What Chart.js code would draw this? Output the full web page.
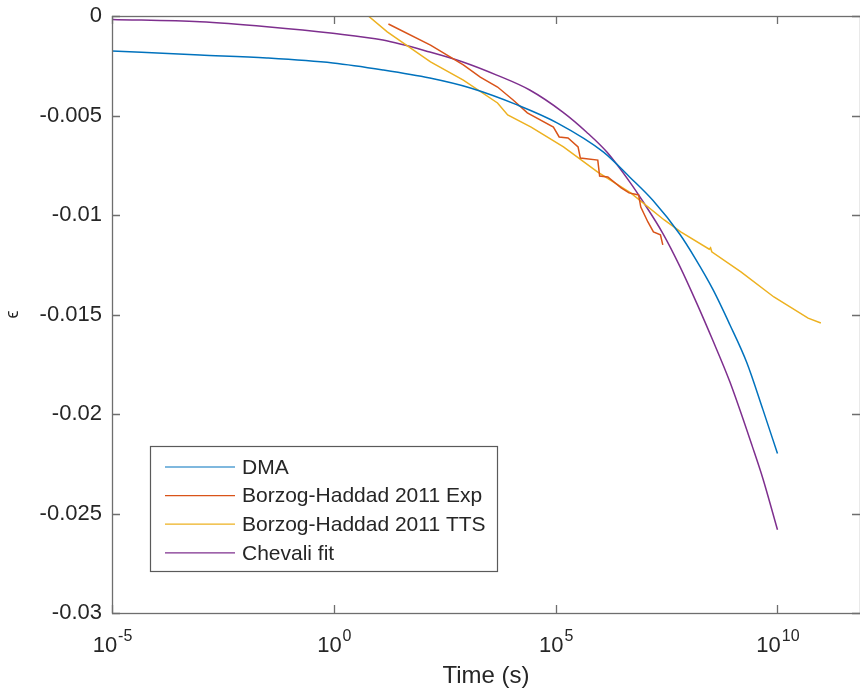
<!DOCTYPE html>
<html>
<head>
<meta charset="utf-8">
<title>Strain vs time</title>
<script src="https://cdn.jsdelivr.net/npm/chart.js@4.4.1/dist/chart.umd.min.js"></script>
<style>
  html, body { margin: 0; padding: 0; background: #fff; overflow: hidden; }
</style>
</head>
<body>
<canvas id="strainChart" width="860" height="694"></canvas>
<script>
// series data (time in s, strain)
const dmaTime = [1e-5, 9.6e-4, 3.1e-2, 0.95, 12.8, 146, 1.2e3, 1.4e4, 1.1e5, 1.2e6, 4.7e6, 1.55e7, 6.3e7, 1.44e8, 3.5e8, 8.4e8, 2.03e9, 4.7e9, 1e10];
const dmaStrain = [-0.00176, -0.00196, -0.00211, -0.00236, -0.00271, -0.00312, -0.00362, -0.00448, -0.00538, -0.00684, -0.00810, -0.00926, -0.01097, -0.01223, -0.01374, -0.01550, -0.01741, -0.01978, -0.02199];

const expTime = [17, 151, 830, 2.0e3, 4.9e3, 1.1e4, 2.3e4, 8.9e4, 1.2e5, 1.9e5, 3.2e5, 3.6e5, 8.9e5, 9.8e5, 1.5e6, 3.0e6, 4.5e6, 7.4e6, 8.3e6, 1.2e7, 1.6e7, 2.3e7, 2.6e7];
const expStrain = [-0.0004, -0.00146, -0.00246, -0.00307, -0.00357, -0.00422, -0.00487, -0.00558, -0.00608, -0.00613, -0.00658, -0.00714, -0.00724, -0.00804, -0.00809, -0.00864, -0.00889, -0.00899, -0.0096, -0.01035, -0.01085, -0.011, -0.0115];

const ttsTime = [6.0, 16, 151, 830, 4.9e3, 8.3e3, 2.8e4, 1.5e5, 8.9e5, 4.9e6, 2.8e7, 6.6e7, 2.9e8, 3.1e8, 3.3e8, 1.5e9, 8.3e9, 4.9e10, 9.5e10];
const ttsStrain = [0, -0.0008, -0.00231, -0.00322, -0.00437, -0.00497, -0.00558, -0.00658, -0.00784, -0.00889, -0.01025, -0.01085, -0.01172, -0.01165, -0.01185, -0.01286, -0.01412, -0.01518, -0.01543];

const chevaliTime = [1e-5, 9.6e-4, 3.1e-2, 0.95, 12.8, 146, 811, 4.7e3, 2.6e4, 1.45e5, 5.0e5, 1.43e6, 4.7e6, 9.2e6, 2.6e7, 6.3e7, 1.52e8, 3.5e8, 8.4e8, 2.77e9, 4.7e9, 1e10];
const chevaliStrain = [-0.00017, -0.00029, -0.00054, -0.00087, -0.00121, -0.00181, -0.00231, -0.00297, -0.00372, -0.00483, -0.00584, -0.00684, -0.00835, -0.00931, -0.01092, -0.01258, -0.01444, -0.01631, -0.01837, -0.02169, -0.02325, -0.02582];

const legendLabels = ['DMA', 'Borzog-Haddad 2011 Exp', 'Borzog-Haddad 2011 TTS', 'Chevali fit'];
const seriesColors = ['#0072BD', '#D95319', '#EDB120', '#7E2F8E'];

// axes
const xTickValues = [1e-5, 1e0, 1e5, 1e10];
const xTickExponents = ['-5', '0', '5', '10'];
const yTickValues = [0, -0.005, -0.01, -0.015, -0.02, -0.025, -0.03];
const yTickLabels = ['0', '-0.005', '-0.01', '-0.015', '-0.02', '-0.025', '-0.03'];
const xMin = 1e-5;
const xMax = Math.pow(10, 11.86);

const textColor = '#262626';
const axisColor = '#6e6e6e';
const fontFamily = '"Liberation Sans", Arial, Helvetica, sans-serif';

function toPoints(xs, ys) {
    return xs.map((x, i) => ({ x: x, y: ys[i] }));
}

// draws the MATLAB style box, inner ticks, 10^n labels and the legend
const matlabAxes = {
    id: 'matlabAxes',
    afterDraw(chart) {
        const ctx = chart.ctx;
        const a = chart.chartArea;
        const xs = chart.scales.x;
        const ys = chart.scales.y;
        ctx.save();

        ctx.strokeStyle = axisColor;
        ctx.lineWidth = 1.3;
        ctx.strokeRect(a.left + 0.5, a.top + 0.5, a.right - a.left, a.bottom - a.top);

        ctx.beginPath();
        xTickValues.forEach(v => {
            const px = Math.round(xs.getPixelForValue(v)) + 0.5;
            ctx.moveTo(px, a.bottom); ctx.lineTo(px, a.bottom - 8);
            ctx.moveTo(px, a.top); ctx.lineTo(px, a.top + 8);
        });
        yTickValues.forEach(v => {
            const py = Math.round(ys.getPixelForValue(v)) + 0.5;
            ctx.moveTo(a.left, py); ctx.lineTo(a.left + 8, py);
            ctx.moveTo(a.right, py); ctx.lineTo(a.right - 8, py);
        });
        ctx.stroke();

        // x tick labels as 10 with a raised exponent
        ctx.fillStyle = textColor;
        ctx.textAlign = 'left';
        ctx.textBaseline = 'alphabetic';
        xTickValues.forEach((v, i) => {
            const px = xs.getPixelForValue(v);
            ctx.font = '22px ' + fontFamily;
            const wb = ctx.measureText('10').width;
            ctx.font = '16px ' + fontFamily;
            const we = ctx.measureText(xTickExponents[i]).width;
            const x0 = px - (wb + we) / 2;
            ctx.font = '22px ' + fontFamily;
            ctx.fillText('10', x0, a.bottom + 39);
            ctx.font = '16px ' + fontFamily;
            ctx.fillText(xTickExponents[i], x0 + wb + 1, a.bottom + 28);
        });

        // legend box
        const lx = 150.5, ly = 446.5, lw = 347, lh = 125;
        ctx.fillStyle = '#ffffff';
        ctx.fillRect(lx, ly, lw, lh);
        ctx.strokeStyle = '#5a5a5a';
        ctx.lineWidth = 1.2;
        ctx.strokeRect(lx, ly, lw, lh);
        ctx.font = '21px ' + fontFamily;
        ctx.textBaseline = 'middle';
        legendLabels.forEach((label, i) => {
            const ry = ly + 20.5 + i * 28.6;
            ctx.strokeStyle = seriesColors[i];
            ctx.lineWidth = 1.2;
            ctx.beginPath();
            ctx.moveTo(165, ry); ctx.lineTo(235, ry);
            ctx.stroke();
            ctx.fillStyle = textColor;
            ctx.fillText(label, 242, ry + 1);
        });

        ctx.restore();
    }
};

const datasets = [
    { data: toPoints(dmaTime, dmaStrain), cubicInterpolationMode: 'monotone' },
    { data: toPoints(expTime, expStrain), tension: 0 },
    { data: toPoints(ttsTime, ttsStrain), tension: 0 },
    { data: toPoints(chevaliTime, chevaliStrain), cubicInterpolationMode: 'monotone' }
].map((d, i) => Object.assign(d, {
    label: legendLabels[i],
    borderColor: seriesColors[i],
    borderWidth: 1.5,
    pointRadius: 0,
    fill: false
}));

new Chart(document.getElementById('strainChart').getContext('2d'), {
    type: 'line',
    data: { datasets: datasets },
    options: {
        responsive: false,
        animation: false,
        layout: { padding: { top: 16, right: 0, left: 0, bottom: 0 } },
        plugins: { legend: { display: false }, tooltip: { enabled: false } },
        scales: {
            x: {
                type: 'logarithmic',
                min: xMin,
                max: xMax,
                grid: { display: false, drawTicks: false },
                border: { display: false },
                ticks: { display: false },
                afterBuildTicks: scale => { scale.ticks = xTickValues.map(v => ({ value: v })); },
                afterFit: scale => { scale.height = 81; },
                title: {
                    display: true,
                    text: 'Time (s)',
                    color: textColor,
                    font: { family: fontFamily, size: 24 },
                    padding: { top: 0, bottom: 3 }
                }
            },
            y: {
                type: 'linear',
                min: -0.03,
                max: 0,
                grid: { display: false, drawTicks: false },
                border: { display: false },
                afterBuildTicks: scale => { scale.ticks = yTickValues.map(v => ({ value: v })); },
                afterFit: scale => { scale.width = 112; },
                ticks: {
                    padding: 10,
                    color: textColor,
                    font: { family: fontFamily, size: 22, lineHeight: 0.5 },
                    callback: (value, index) => yTickLabels[index]
                },
                title: {
                    display: true,
                    text: 'ϵ',
                    color: textColor,
                    font: { family: fontFamily, size: 18 },
                    padding: 2
                }
            }
        }
    },
    plugins: [matlabAxes]
});
</script>
</body>
</html>
